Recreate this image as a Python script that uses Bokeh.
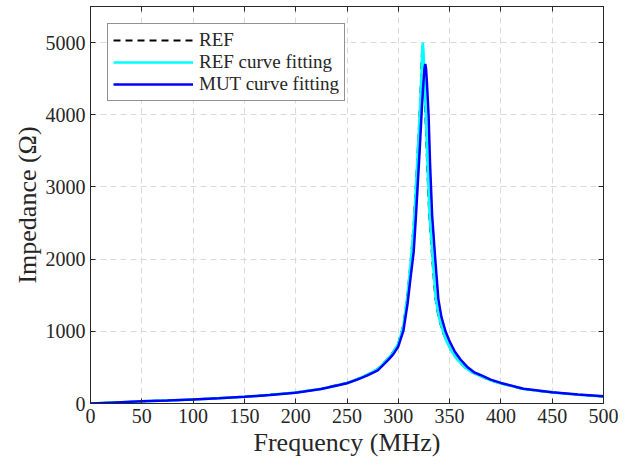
from bokeh.plotting import figure
from bokeh.models import Range1d, LinearAxis, FixedTicker, Legend, LegendItem
from bokeh.embed import file_html
from bokeh.resources import INLINE

# Frequency (MHz) / impedance (Ohm)
ref_freq = [0, 25, 50, 75, 100, 125, 150, 175, 200, 225, 250, 260, 270, 280, 290, 295, 300, 305, 309, 312,
            315, 317, 319, 321, 322.3, 323, 323.6, 324.3, 325.2, 326.5, 328, 330, 333, 336, 339, 343, 347, 352,
            358, 365, 372, 380, 390, 400, 422, 450, 475, 500]
ref_z = [0, 15, 30, 42, 57, 73, 93, 120, 153, 204, 287, 340, 402, 478, 625, 715, 835, 1090, 1510, 1970,
         2480, 2980, 3530, 4080, 4560, 4850, 4960, 4850, 4500, 3950, 3350, 2650, 2020, 1470, 1210, 1005, 865,
         722, 602, 500, 430, 378, 320, 277, 199, 152, 121, 97]

reffit_freq = [0, 25, 50, 75, 100, 125, 150, 175, 200, 225, 250, 260, 270, 280, 290, 295, 300, 305, 309, 312,
               315, 317, 319, 321, 322.5, 323.3, 323.9, 324.6, 325.5, 327, 328.5, 330.5, 333.5, 336.5, 339.5,
               343.5, 347, 352, 358, 365, 372, 380, 390, 400, 422, 450, 475, 500]
reffit_z = [0, 15, 30, 42, 57, 73, 93, 120, 152, 203, 285, 337, 400, 475, 620, 710, 830, 1080, 1500, 1950,
            2450, 2950, 3500, 4050, 4560, 4880, 5000, 4870, 4500, 3900, 3300, 2600, 2000, 1450, 1200,
            1000, 860, 720, 600, 500, 430, 380, 320, 278, 200, 153, 122, 98]

mut_freq = [0, 25, 50, 75, 100, 125, 150, 175, 200, 225, 250, 260, 270, 280, 290, 295, 300, 305, 309, 312,
            315, 317, 319, 321, 323, 324.5, 325.5, 326.3, 327.1, 328, 329.5, 331, 333, 336, 339, 342, 346, 350,
            355, 360.6, 367, 373.6, 380, 390, 400, 422, 450, 475, 500]
mut_z = [0, 15, 30, 42, 56, 72, 92, 118, 150, 200, 280, 330, 390, 460, 600, 680, 790, 1010, 1380, 1750,
         2100, 2550, 3050, 3550, 4100, 4450, 4640, 4705, 4630, 4420, 4000, 3300, 2600, 2000, 1450, 1200, 1000,
         860, 720, 610, 510, 435, 395, 330, 285, 204, 157, 125, 100]

x_ticks = [0, 50, 100, 150, 200, 250, 300, 350, 400, 450, 500]
y_ticks = [0, 1000, 2000, 3000, 4000, 5000]

FONT = "'Liberation Serif', serif"
AXC = "#262626"

p = figure(width=618, height=464, output_backend="svg", toolbar_location=None,
           x_range=Range1d(0, 500), y_range=Range1d(0, 5500),
           min_border_left=90, min_border_right=15, min_border_top=6, min_border_bottom=61,
           x_axis_label="Frequency (MHz)", y_axis_label="Impedance (Ω)")
p.outline_line_color = AXC
p.outline_line_width = 1
p.background_fill_color = "white"
p.border_fill_color = "white"

for ax in (p.xaxis[0], p.yaxis[0]):
    ax.major_label_text_font = FONT
    ax.major_label_text_font_size = "20px"
    ax.major_label_text_color = AXC
    ax.axis_label_text_font = FONT
    ax.axis_label_text_font_size = "26px"
    ax.axis_label_text_font_style = "normal"
    ax.axis_label_text_color = AXC
    ax.axis_line_color = AXC
    ax.major_tick_line_color = AXC
    ax.major_tick_in = 5
    ax.major_tick_out = 0
    ax.minor_tick_line_color = None

p.xaxis[0].ticker = FixedTicker(ticks=x_ticks)
p.yaxis[0].ticker = FixedTicker(ticks=y_ticks)
p.xaxis[0].major_label_standoff = 5
p.xaxis[0].axis_label_standoff = 2
p.yaxis[0].major_label_standoff = 5
p.yaxis[0].axis_label_standoff = 1

for loc, ticks in (("right", y_ticks), ("above", x_ticks)):
    ax = LinearAxis(ticker=FixedTicker(ticks=ticks))
    ax.major_label_overrides = {t: "" for t in ticks}
    ax.major_label_standoff = 0
    ax.major_tick_in = 5
    ax.major_tick_out = 0
    ax.minor_tick_line_color = None
    ax.axis_line_color = AXC
    ax.major_tick_line_color = AXC
    p.add_layout(ax, loc)

p.xgrid.ticker = FixedTicker(ticks=x_ticks)
p.ygrid.ticker = FixedTicker(ticks=y_ticks)
for g in (p.xgrid[0], p.ygrid[0]):
    g.grid_line_color = "#d9d9d9"
    g.grid_line_dash = "6 4"
    g.grid_line_width = 1

r_ref = p.line(ref_freq, ref_z, line_color="black", line_width=2, line_dash="7 5")
r_fit = p.line(reffit_freq, reffit_z, line_color="#00ffff", line_width=2.5)
r_mut = p.line(mut_freq, mut_z, line_color="#0000ff", line_width=2.5)

legend = Legend(items=[LegendItem(label="REF", renderers=[r_ref]),
                       LegendItem(label="REF curve fitting", renderers=[r_fit]),
                       LegendItem(label="MUT curve fitting", renderers=[r_mut])],
                location="top_left")
legend.margin = 17
legend.padding = 5
legend.spacing = 0
legend.glyph_width = 80
legend.glyph_height = 22
legend.label_height = 22
legend.label_standoff = 6
legend.label_text_font = FONT
legend.label_text_font_size = "19px"
legend.label_text_color = AXC
legend.border_line_color = AXC
legend.border_line_width = 1
legend.background_fill_color = "white"
legend.background_fill_alpha = 1
p.add_layout(legend)

open("out.html", "w").write(file_html(p, INLINE))
